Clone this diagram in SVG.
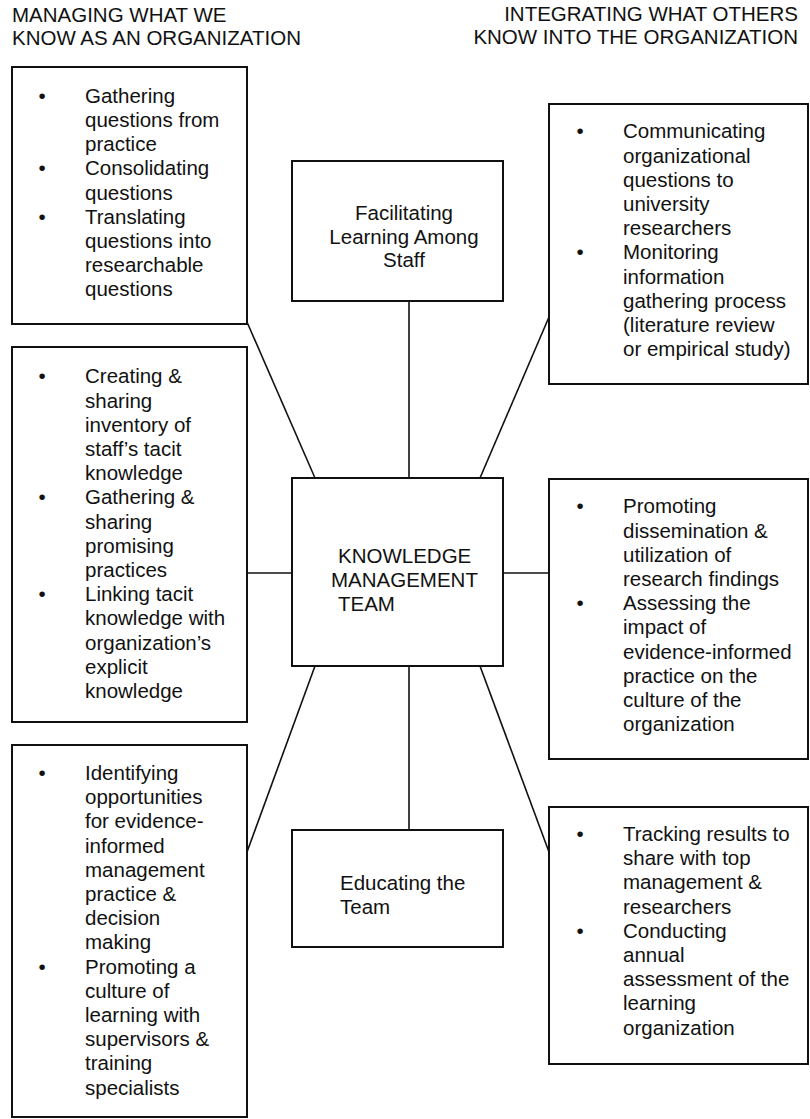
<svg xmlns="http://www.w3.org/2000/svg" width="810" height="1119" viewBox="0 0 810 1119">
<style>
text{font-family:"Liberation Sans",Arial,sans-serif;font-size:20.5px;fill:#111}
.box{fill:#fff;stroke:#111;stroke-width:2}
.con line{stroke:#111;stroke-width:1.6}
.b{text-anchor:middle}
</style>
<rect width="810" height="1119" fill="#fff"/>
<g id="headers">
<text x="12" y="22">MANAGING WHAT WE</text>
<text x="12" y="45">KNOW AS AN ORGANIZATION</text>
<text x="798" y="21" text-anchor="end">INTEGRATING WHAT OTHERS</text>
<text x="798" y="44" text-anchor="end">KNOW INTO THE ORGANIZATION</text>
</g>
<g class="con" id="connectors">
<line x1="409" y1="301" x2="409" y2="478"/>
<line x1="409" y1="666" x2="409" y2="830"/>
<line x1="247" y1="573" x2="292" y2="573"/>
<line x1="503" y1="573" x2="549" y2="573"/>
<line x1="315" y1="478" x2="247" y2="322"/>
<line x1="480" y1="478" x2="549" y2="317"/>
<line x1="315" y1="666" x2="247" y2="852"/>
<line x1="480" y1="666" x2="549" y2="852"/>
</g>
<g id="km">
<rect class="box" x="292" y="478" width="211" height="188"/>
<text x="338" y="563">KNOWLEDGE</text>
<text x="331" y="587">MANAGEMENT</text>
<text x="338" y="611">TEAM</text>
</g>
<g id="facilitating">
<rect class="box" x="292" y="161" width="211" height="140"/>
<text text-anchor="middle"><tspan x="404" y="220">Facilitating</tspan><tspan x="404" y="243.5">Learning Among</tspan><tspan x="404" y="267">Staff</tspan></text>
</g>
<g id="educating">
<rect class="box" x="292" y="830" width="211" height="117"/>
<text x="340" y="890">Educating the</text>
<text x="340" y="914">Team</text>
</g>
<g id="box-tl">
<rect class="box" x="12" y="67" width="235" height="257"/>
<text class="b" x="42" y="102.7">•</text>
<text class="b" x="42" y="175.3">•</text>
<text class="b" x="42" y="223.7">•</text>
<text><tspan x="85" y="102.7">Gathering</tspan><tspan x="85" dy="24.2">questions from</tspan><tspan x="85" dy="24.2">practice</tspan><tspan x="85" dy="24.2">Consolidating</tspan><tspan x="85" dy="24.2">questions</tspan><tspan x="85" dy="24.2">Translating</tspan><tspan x="85" dy="24.2">questions into</tspan><tspan x="85" dy="24.2">researchable</tspan><tspan x="85" dy="24.2">questions</tspan></text>
</g>
<g id="box-ml">
<rect class="box" x="12" y="347" width="235" height="375"/>
<text class="b" x="42" y="383.3">•</text>
<text class="b" x="42" y="504.3">•</text>
<text class="b" x="42" y="601.1">•</text>
<text><tspan x="85" y="383.3">Creating &amp;</tspan><tspan x="85" dy="24.2">sharing</tspan><tspan x="85" dy="24.2">inventory of</tspan><tspan x="85" dy="24.2">staff’s tacit</tspan><tspan x="85" dy="24.2">knowledge</tspan><tspan x="85" dy="24.2">Gathering &amp;</tspan><tspan x="85" dy="24.2">sharing</tspan><tspan x="85" dy="24.2">promising</tspan><tspan x="85" dy="24.2">practices</tspan><tspan x="85" dy="24.2">Linking tacit</tspan><tspan x="85" dy="24.2">knowledge with</tspan><tspan x="85" dy="24.2">organization’s</tspan><tspan x="85" dy="24.2">explicit</tspan><tspan x="85" dy="24.2">knowledge</tspan></text>
</g>
<g id="box-bl">
<rect class="box" x="12" y="745" width="235" height="372"/>
<text class="b" x="42" y="780">•</text>
<text class="b" x="42" y="973.6">•</text>
<text><tspan x="85" y="780">Identifying</tspan><tspan x="85" dy="24.2">opportunities</tspan><tspan x="85" dy="24.2">for evidence-</tspan><tspan x="85" dy="24.2">informed</tspan><tspan x="85" dy="24.2">management</tspan><tspan x="85" dy="24.2">practice &amp;</tspan><tspan x="85" dy="24.2">decision</tspan><tspan x="85" dy="24.2">making</tspan><tspan x="85" dy="24.2">Promoting a</tspan><tspan x="85" dy="24.2">culture of</tspan><tspan x="85" dy="24.2">learning with</tspan><tspan x="85" dy="24.2">supervisors &amp;</tspan><tspan x="85" dy="24.2">training</tspan><tspan x="85" dy="24.2">specialists</tspan></text>
</g>
<g id="box-tr">
<rect class="box" x="549" y="104" width="259" height="280"/>
<text class="b" x="580" y="138.3">•</text>
<text class="b" x="580" y="259.3">•</text>
<text><tspan x="623" y="138.3">Communicating</tspan><tspan x="623" dy="24.2">organizational</tspan><tspan x="623" dy="24.2">questions to</tspan><tspan x="623" dy="24.2">university</tspan><tspan x="623" dy="24.2">researchers</tspan><tspan x="623" dy="24.2">Monitoring</tspan><tspan x="623" dy="24.2">information</tspan><tspan x="623" dy="24.2">gathering process</tspan><tspan x="623" dy="24.2">(literature review</tspan><tspan x="623" dy="24.2">or empirical study)</tspan></text>
</g>
<g id="box-mr">
<rect class="box" x="549" y="479" width="259" height="280"/>
<text class="b" x="580" y="513.3">•</text>
<text class="b" x="580" y="610.1">•</text>
<text><tspan x="623" y="513.3">Promoting</tspan><tspan x="623" dy="24.2">dissemination &amp;</tspan><tspan x="623" dy="24.2">utilization of</tspan><tspan x="623" dy="24.2">research findings</tspan><tspan x="623" dy="24.2">Assessing the</tspan><tspan x="623" dy="24.2">impact of</tspan><tspan x="623" dy="24.2">evidence-informed</tspan><tspan x="623" dy="24.2">practice on the</tspan><tspan x="623" dy="24.2">culture of the</tspan><tspan x="623" dy="24.2">organization</tspan></text>
</g>
<g id="box-br">
<rect class="box" x="549" y="807" width="259" height="257"/>
<text class="b" x="580" y="841">•</text>
<text class="b" x="580" y="937.8">•</text>
<text><tspan x="623" y="841">Tracking results to</tspan><tspan x="623" dy="24.2">share with top</tspan><tspan x="623" dy="24.2">management &amp;</tspan><tspan x="623" dy="24.2">researchers</tspan><tspan x="623" dy="24.2">Conducting</tspan><tspan x="623" dy="24.2">annual</tspan><tspan x="623" dy="24.2">assessment of the</tspan><tspan x="623" dy="24.2">learning</tspan><tspan x="623" dy="24.2">organization</tspan></text>
</g>
</svg>
